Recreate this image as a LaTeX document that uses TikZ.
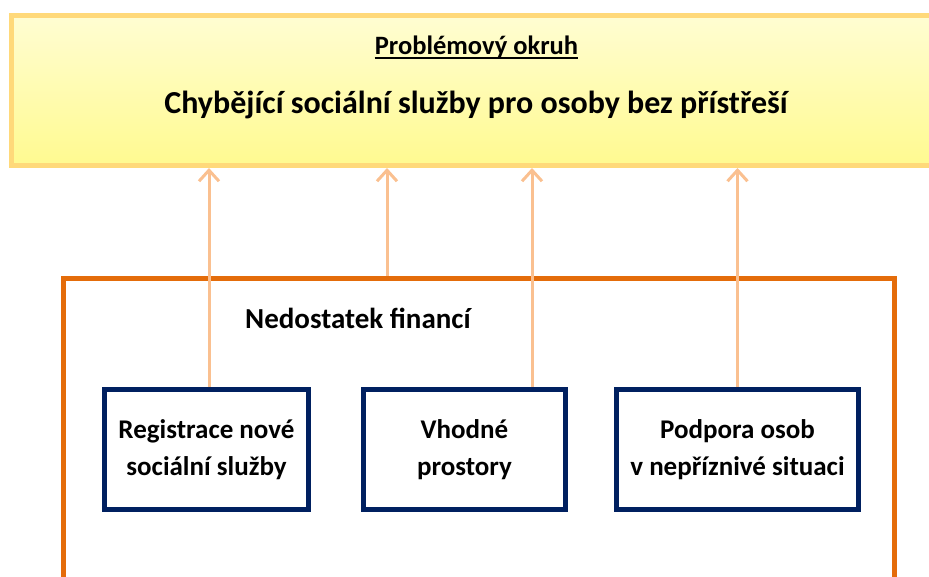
\documentclass[tikz,border=0pt]{standalone}
\usepackage{fontspec}
\setmainfont{Carlito}
\usetikzlibrary{arrows.meta}
\definecolor{okrajzluty}{HTML}{FFD97A}
\definecolor{zlutyhore}{HTML}{FFFDD2}
\definecolor{zlutydole}{HTML}{FFFA90}
\definecolor{oranzova}{HTML}{E46C0A}
\definecolor{sipka}{HTML}{FAC090}
\definecolor{modra}{HTML}{002060}
\begin{document}
\begin{tikzpicture}[x=1pt, y=-1pt,
every node/.style={font=\bfseries\fontsize{27}{37}\selectfont},
pricina/.style={draw=modra, line width=5pt, align=center, minimum height=120pt, inner sep=0pt},
arr/.style={-{Straight Barb[length=11pt,width=20pt]}, line width=3pt, draw=sipka}]
\useasboundingbox (0,0) rectangle (929,576);
\clip (0,0) rectangle (929,576);
% problem area
\node[draw=okrajzluty, line width=5pt, top color=zlutyhore, bottom color=zlutydole, minimum width=929pt, minimum height=150pt, inner sep=0pt] (okruh) at (475.5,90.5) {};
\node[font=\bfseries\fontsize{26.5}{30}\selectfont, inner xsep=0pt, anchor=base] (nadpis) at (476.5,54) {Problémový okruh};
\draw[line width=2pt] ([yshift=-3.5pt]nadpis.base west) -- ([yshift=-3.5pt]nadpis.base east);
\node[font=\bfseries\fontsize{32}{36}\selectfont, anchor=base] (problem) at (476,113) {Chybějící sociální služby pro osoby bez přístřeší};
% causes
\node[draw=oranzova, line width=5pt, minimum width=831.5pt, minimum height=400pt, inner sep=0pt, anchor=north west] (finance) at (60.5,276) {};
\node[font=\bfseries\fontsize{29}{34}\selectfont, anchor=base west, inner xsep=0pt] (nedostatek) at (245,328) {Nedostatek financí};
\node[pricina, minimum width=204pt] (registrace) at (206.5,449.5) {Registrace nové\\sociální služby};
\node[pricina, minimum width=202pt] (prostory) at (464.5,449.5) {Vhodné\\prostory};
\node[pricina, minimum width=242pt] (podpora) at (737.5,449.5) {Podpora osob\\v nepříznivé situaci};
\draw[arr] ([xshift=2.5pt]registrace.north) -- ([xshift=2.5pt]registrace.north |- okruh.south);
\draw[arr] (finance.north -| 387,0) -- (387,0 |- okruh.south);
\draw[arr] ([xshift=67.5pt]prostory.north) -- ([xshift=67.5pt]prostory.north |- okruh.south);
\draw[arr] (podpora.north) -- (podpora.north |- okruh.south);
\end{tikzpicture}
\end{document}
